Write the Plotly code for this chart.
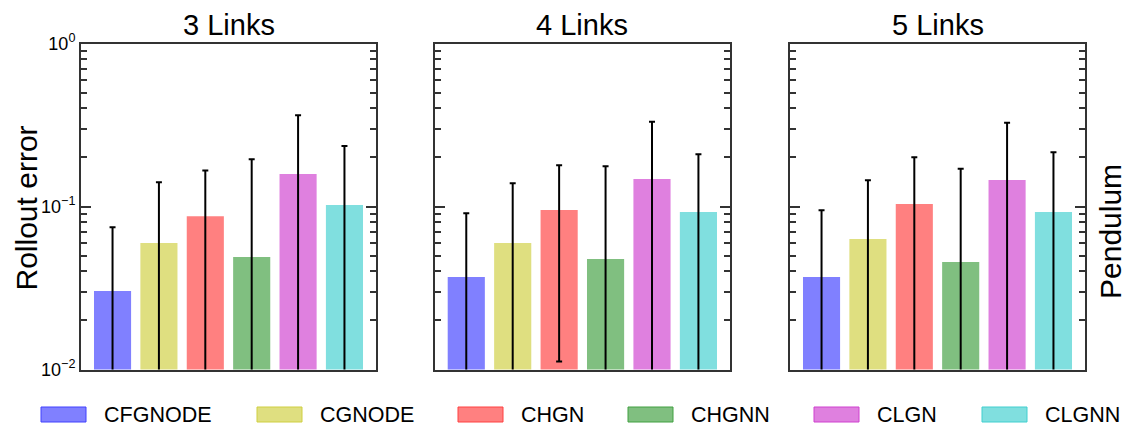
import plotly.graph_objects as go

# rollout error per model, pendulum with 3/4/5 links
models = ["CFGNODE", "CGNODE", "CHGN", "CHGNN", "CLGN", "CLGNN"]
panels = ["3 Links", "4 Links", "5 Links"]

mean_3 = [0.0303, 0.0597, 0.0870, 0.0490, 0.1582, 0.1021]
std_3 = [0.0442, 0.0810, 0.0790, 0.1458, 0.2043, 0.1329]
mean_4 = [0.0369, 0.0597, 0.0952, 0.0476, 0.1475, 0.0925]
std_4 = [0.0539, 0.0791, 0.0840, 0.1288, 0.1839, 0.1165]
mean_5 = [0.0369, 0.0632, 0.1036, 0.0456, 0.1455, 0.0925]
std_5 = [0.0578, 0.0815, 0.0967, 0.1250, 0.1813, 0.1225]

means = [mean_3, mean_4, mean_5]
stds = [std_3, std_4, std_5]

fill_colors = ["#8080ff", "#dfdf80", "#ff8080", "#80bf80", "#df80df", "#80dfdf"]
edge_colors = ["#4040ff", "#cfcf40", "#ff4040", "#40a040", "#cf40cf", "#40cfcf"]

# page body has an 8px margin, so the figure is sized to the window minus that
OFF = 8
W, H = 1135 - 2 * OFF, 442 - 2 * OFF
font = "Liberation Sans, Arial, sans-serif"
frame = "#333333"


def px(x):
    return (x - OFF) / W


def py(y):
    return 1 - (y - OFF) / H


x_domains = [(81, 376), (434.7, 730), (790, 1085)]
y_top, y_bot = 43.5, 369.5

fig = go.Figure()

for i in range(3):
    suffix = "" if i == 0 else str(i + 1)
    fig.add_trace(
        go.Bar(
            x=list(range(len(models))),
            y=means[i],
            width=0.8,
            marker=dict(color=fill_colors, line=dict(width=0)),
            error_y=dict(type="data", array=stds[i], color="black",
                         thickness=2, width=3),
            xaxis="x" + suffix,
            yaxis="y" + suffix,
            showlegend=False,
        )
    )
    x0, x1 = x_domains[i]
    fig.update_layout({
        "xaxis" + suffix: dict(
            domain=[px(x0), px(x1)],
            range=[-0.68, 5.68],
            showticklabels=False,
            ticks="",
            showline=True, mirror=True, linecolor=frame, linewidth=2,
            showgrid=False, zeroline=False,
            automargin=False,
            anchor="y" + suffix,
        ),
        "yaxis" + suffix: dict(
            domain=[py(y_bot), py(y_top)],
            type="log",
            range=[-2, 0],
            tickmode="array",
            tickvals=[0.01, 0.1, 1],
            ticktext=["10<sup>−2</sup>", "10<sup>−1</sup>", "10<sup>0</sup>"],
            showticklabels=(i == 0),
            ticks="inside", ticklen=10, tickwidth=2, tickcolor=frame,
            minor=dict(dtick="D1", ticks="inside", ticklen=6, tickwidth=1.5,
                       tickcolor=frame, showgrid=False),
            showline=True, mirror="ticks", linecolor=frame, linewidth=2,
            showgrid=False, zeroline=False,
            automargin=False,
            tickfont=dict(size=18, color="black", family=font),
            anchor="x" + suffix,
        ),
    })
    # panel titles hang from the top edge so they stay inside the figure
    fig.add_annotation(
        x=px((x0 + x1) / 2), y=1, xref="paper", yref="paper",
        text=panels[i], showarrow=False, xanchor="center", yanchor="top",
        borderpad=0,
        font=dict(size=29, color="black", family=font),
    )

# side labels
fig.add_annotation(
    x=0, y=py(208), xref="paper", yref="paper", text="Rollout error",
    textangle=-90, showarrow=False, xanchor="left", yanchor="middle",
    borderpad=0,
    font=dict(size=30, color="black", family=font),
)
fig.add_annotation(
    x=px(1110), y=py(232), xref="paper", yref="paper", text="Pendulum",
    textangle=-90, showarrow=False, xanchor="center", yanchor="middle",
    font=dict(size=30, color="black", family=font),
)

# legend drawn by hand to get the wide matplotlib-style patches
legend_x = [41, 257, 458, 628, 814, 982]
for name, fc, ec, lx in zip(models, fill_colors, edge_colors, legend_x):
    fig.add_shape(
        type="rect", xref="paper", yref="paper",
        x0=px(lx), x1=px(lx + 45), y0=py(422), y1=py(407),
        fillcolor=fc, line=dict(color=ec, width=1),
    )
    fig.add_annotation(
        x=px(lx + 61), y=py(414.5), xref="paper", yref="paper",
        text=name, showarrow=False, xanchor="left", yanchor="middle",
        font=dict(size=21.5, color="black", family=font),
    )

fig.update_layout(
    width=W, height=H,
    margin=dict(l=0, r=0, t=0, b=0, pad=0, autoexpand=False),
    paper_bgcolor="white",
    plot_bgcolor="white",
    showlegend=False,
)

fig.write_html("out.html")
